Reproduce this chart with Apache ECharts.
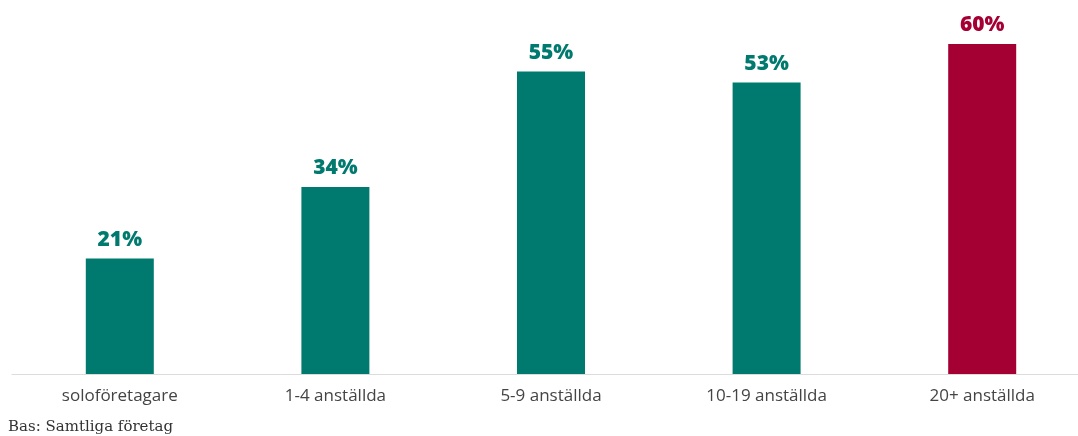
<!DOCTYPE html>
<html>
<head>
<meta charset="utf-8">
<script src="https://cdn.jsdelivr.net/npm/echarts@6/dist/echarts.min.js"></script>
<style>
  html, body { margin: 0; padding: 0; background: #fff; overflow: hidden; }
  #chart { width: 1090px; height: 436px; }
</style>
</head>
<body>
<div id="chart"></div>
<script>
// Share of companies per size class
const categories = ['soloföretagare', '1-4 anställda', '5-9 anställda', '10-19 anställda', '20+ anställda'];
const values = [21, 34, 55, 53, 60];
const highlightIndex = 4;

const TEAL = '#007a6e';
const CRIMSON = '#a50034';

const chart = echarts.init(document.getElementById('chart'));
chart.setOption({
  animation: false,
  grid: { left: 12, right: 0, top: 0, bottom: 62 },
  xAxis: {
    type: 'category',
    data: categories,
    axisLine: { lineStyle: { color: '#dcdcdc', width: 1 } },
    axisTick: { show: false },
    axisLabel: { color: '#444', fontSize: 17, fontFamily: 'Open Sans', margin: 14 }
  },
  yAxis: {
    type: 'value',
    min: 0,
    max: 68,
    show: false,
    splitLine: { show: false }
  },
  series: [{
    type: 'bar',
    barWidth: 68,
    data: values.map((v, i) => ({
      value: v,
      itemStyle: { color: i === highlightIndex ? CRIMSON : TEAL },
      label: { color: i === highlightIndex ? CRIMSON : TEAL }
    })),
    label: {
      show: true,
      position: 'top',
      distance: 8,
      formatter: '{c}%',
      fontSize: 21,
      fontWeight: 800,
      fontFamily: 'Open Sans'
    }
  }],
  graphic: [{
    type: 'text',
    left: 8,
    top: 420,
    style: {
      text: 'Bas: Samtliga företag',
      fill: '#333',
      font: '15px "DejaVu Serif", serif'
    }
  }]
});
</script>
</body>
</html>
